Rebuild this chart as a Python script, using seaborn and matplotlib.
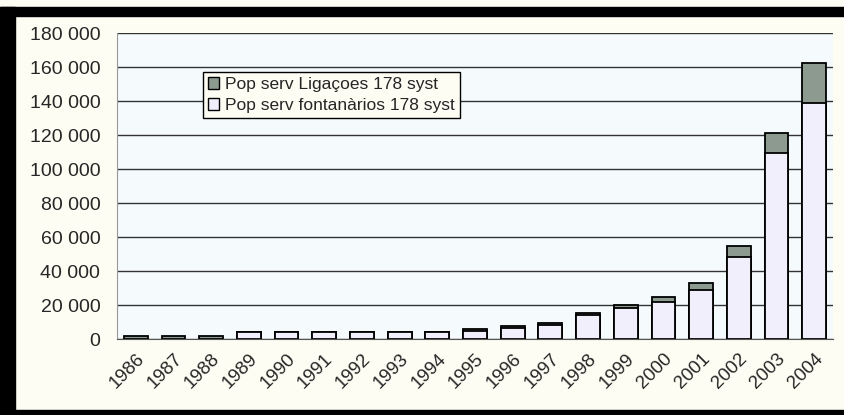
"""Stacked bars: population served, 178 systems, 1986-2004."""

import matplotlib

matplotlib.use("Agg")
import matplotlib.pyplot as plt
import numpy as np
import pandas as pd
import seaborn as sns
from matplotlib.patches import Patch, Rectangle
from matplotlib.ticker import FuncFormatter, MultipleLocator

years = [str(y) for y in range(1986, 2005)]
pop_fontanarios = [0, 0, 0, 4000, 4000, 4000, 4000, 4000, 4000, 5000,
                   6500, 8200, 14200, 18500, 21500, 28800, 48400, 109200, 139000]
pop_ligacoes = [2000, 2000, 2000, 0, 0, 0, 0, 0, 0, 800,
                1100, 1000, 900, 1300, 3500, 4300, 6300, 11800, 23500]

label_lig = "Pop serv Ligaçoes 178 syst"
label_font = "Pop serv fontanàrios 178 syst"

col_lig = "#8c9a90"
col_font = "#f1effc"
bg = "#fdfdf3"
plot_bg = "#f5fafd"

df = pd.DataFrame({
    "year": years,
    "fontanarios": pop_fontanarios,
    "ligacoes": pop_ligacoes,
})
df["total"] = df["fontanarios"] + df["ligacoes"]

sns.set_style("white")
plt.rcParams["font.family"] = ["Liberation Sans", "DejaVu Sans"]

fig = plt.figure(figsize=(8.44, 4.15), dpi=100, facecolor=bg)
ax = fig.add_axes([117 / 844, 1 - 339 / 415, (833 - 117) / 844, (339 - 33) / 415])
ax.set_facecolor(plot_bg)

# totals first (dark cap), fontanarios over them
sns.barplot(data=df, x="year", y="total", color=col_lig, width=0.63,
            edgecolor="black", linewidth=1.3, saturation=1, ax=ax)
sns.barplot(data=df[df["fontanarios"] > 0], x="year", y="fontanarios", order=years,
            color=col_font, width=0.63, edgecolor="black", linewidth=1.3,
            saturation=1, ax=ax)

ax.set_ylim(0, 180000)
ax.set_xlim(-0.5, len(years) - 0.5)
ax.yaxis.set_major_locator(MultipleLocator(20000))
ax.yaxis.set_major_formatter(FuncFormatter(lambda v, p: f"{int(v):,}".replace(",", " ")))
ax.grid(axis="y", color="#333333", linewidth=1.0)
ax.set_axisbelow(True)

for s in ["top", "right"]:
    ax.spines[s].set_visible(False)
ax.spines["left"].set_color("#999999")
ax.spines["bottom"].set_color("#555555")

ax.set_xlabel("")
ax.set_ylabel("")
ax.tick_params(axis="y", length=0, labelsize=14, pad=12)
ax.tick_params(axis="x", which="major", length=0, labelsize=13.5, pad=8)
ax.set_xticks(np.arange(-0.5, len(years)), minor=True)
ax.tick_params(axis="x", which="minor", length=6, color="#555555", width=1)
plt.setp(ax.get_xticklabels(), rotation=45, ha="right", rotation_mode="anchor")

handles = [
    Patch(facecolor=col_lig, edgecolor="black", linewidth=1),
    Patch(facecolor=col_font, edgecolor="black", linewidth=1),
]
leg = ax.legend(handles, [label_lig, label_font], loc="upper left",
                bbox_to_anchor=(0.12, 0.873), borderaxespad=0, fontsize=12.5,
                handlelength=0.65, handleheight=0.65, handletextpad=0.3,
                labelspacing=0.35, borderpad=0.3, fancybox=False,
                facecolor=bg, edgecolor="black", framealpha=1)
leg.get_frame().set_linewidth(1)

# thick black frame round the picture (left, top, bottom)
fig.patches.append(Rectangle((0, 0), 15 / 844, 1 - 7 / 415, transform=fig.transFigure,
                             color="black", zorder=10))
fig.patches.append(Rectangle((0, 1 - 16 / 415), 1, 9 / 415, transform=fig.transFigure,
                             color="black", zorder=10))
fig.patches.append(Rectangle((0, 0), 1, 5 / 415, transform=fig.transFigure,
                             color="black", zorder=10))

fig.savefig("out.png", dpi=100, facecolor=bg)
plt.close(fig)
